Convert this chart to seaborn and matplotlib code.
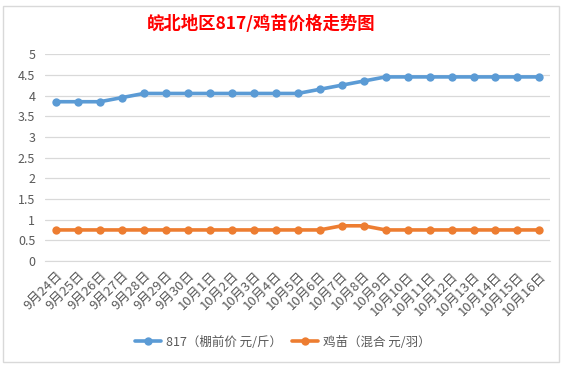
import pandas as pd
import matplotlib.pyplot as plt
import seaborn as sns
from matplotlib.patches import Rectangle

dates = ["9月24日", "9月25日", "9月26日", "9月27日", "9月28日", "9月29日", "9月30日",
         "10月1日", "10月2日", "10月3日", "10月4日", "10月5日", "10月6日", "10月7日",
         "10月8日", "10月9日", "10月10日", "10月11日", "10月12日", "10月13日",
         "10月14日", "10月15日", "10月16日"]
price_817 = [3.85, 3.85, 3.85, 3.95, 4.05, 4.05, 4.05, 4.05, 4.05, 4.05, 4.05, 4.05,
             4.15, 4.25, 4.35, 4.45, 4.45, 4.45, 4.45, 4.45, 4.45, 4.45, 4.45]
price_chick = [0.75, 0.75, 0.75, 0.75, 0.75, 0.75, 0.75, 0.75, 0.75, 0.75, 0.75, 0.75,
               0.75, 0.85, 0.85, 0.75, 0.75, 0.75, 0.75, 0.75, 0.75, 0.75, 0.75]
series_names = ["817（棚前价 元/斤）", "鸡苗（混合 元/羽）"]
yticks = [0, 0.5, 1, 1.5, 2, 2.5, 3, 3.5, 4, 4.5, 5]

df = pd.DataFrame({
    "date": dates * 2,
    "pos": list(range(len(dates))) * 2,
    "price": price_817 + price_chick,
    "series": [series_names[0]] * len(dates) + [series_names[1]] * len(dates),
})

sns.set_style("white")
plt.rcParams["font.family"] = ["Noto Sans CJK SC", "DejaVu Sans"]

fig = plt.figure(figsize=(5.66, 3.66), dpi=100)
ax = fig.add_axes([0.0795, 0.287, 0.893, 0.565])

sns.lineplot(data=df, x="pos", y="price", hue="series",
             palette=["#5B9BD5", "#ED7D31"], marker="o", markersize=6,
             markeredgewidth=0, linewidth=2.6, ax=ax)

ax.set_xlim(-0.5, len(dates) - 0.5)
ax.set_ylim(0, 5)
ax.set_yticks(yticks)
ax.set_yticklabels([f"{v:g}" for v in yticks])
ax.set_xticks(range(len(dates)))
ax.set_xticklabels(dates, rotation=45, ha="right", rotation_mode="anchor")
ax.set_xticks([i - 0.5 for i in range(len(dates) + 1)], minor=True)
ax.tick_params(axis="x", which="major", length=0, pad=6, labelsize=9.5, colors="#595959")
ax.tick_params(axis="x", which="minor", length=4, color="#d9d9d9", direction="out")
ax.tick_params(axis="y", length=0, labelsize=9, colors="#595959", pad=7)
ax.grid(axis="y", color="#d9d9d9", linewidth=0.9)
for s in ["top", "right", "left"]:
    ax.spines[s].set_visible(False)
ax.spines["bottom"].set_color("#d9d9d9")
ax.set_xlabel("")
ax.set_ylabel("")

ax.legend(loc="center", bbox_to_anchor=(283 / 566, 1 - 342 / 366),
          bbox_transform=fig.transFigure,
          ncol=2, frameon=False, fontsize=9, handlelength=2.1, handletextpad=0.4,
          columnspacing=0.8, labelcolor="#595959")

fig.suptitle("皖北地区817/鸡苗价格走势图", x=261 / 566, y=1 - 24 / 366, va="center",
             color="#ff0000", fontsize=12.5, fontweight="bold")

fig.patches.append(Rectangle((3 / 566, 4 / 366), 556 / 566, 356 / 366,
                             transform=fig.transFigure, fill=False,
                             edgecolor="#d9d9d9", linewidth=1))

fig.savefig("out.png", dpi=100)
